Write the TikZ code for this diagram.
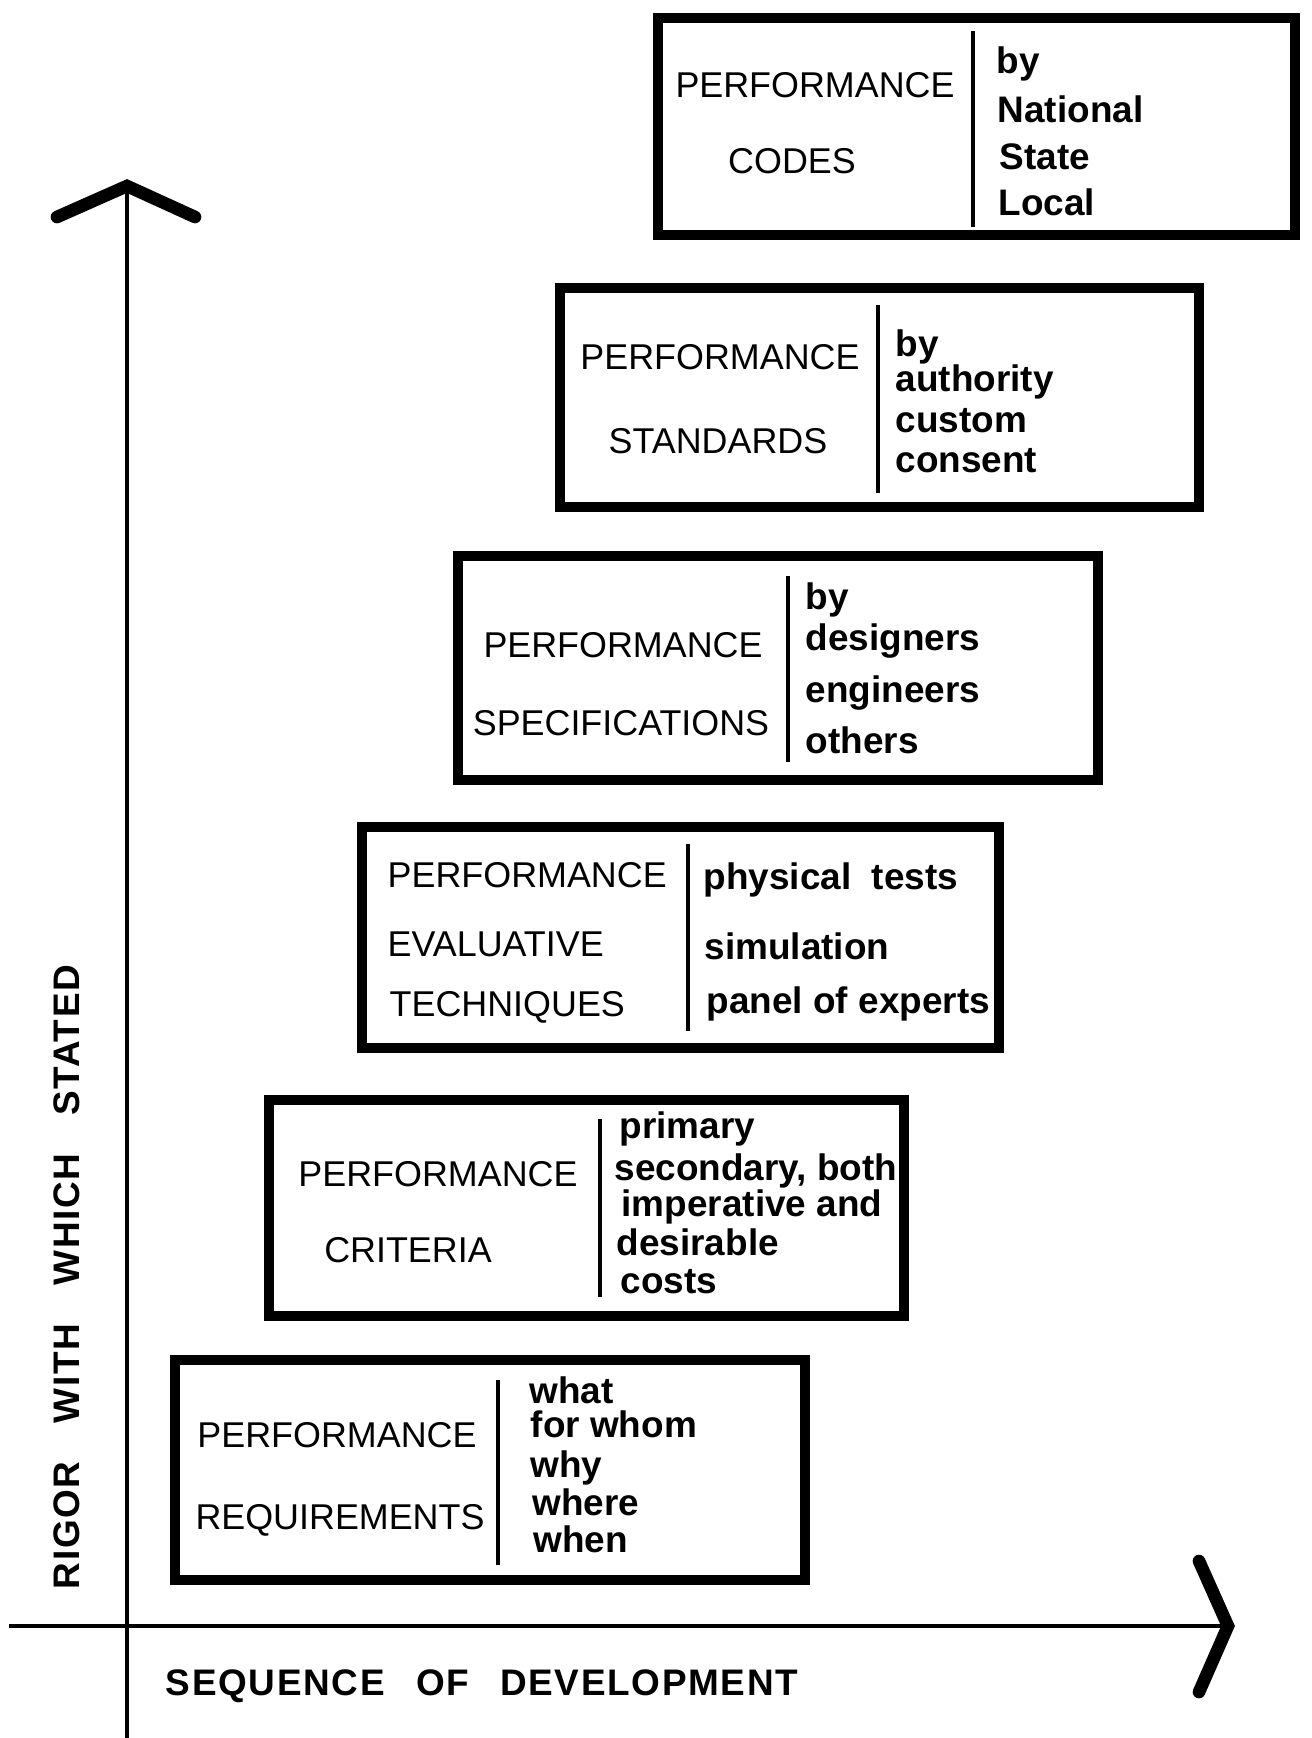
\documentclass[tikz,border=0pt]{standalone}
\usepackage{fontspec}
\setmainfont{Liberation Sans}
\newfontfamily\axisfont[LetterSpace=4.5]{Liberation Sans}
\usetikzlibrary{calc}
\tikzstyle{Stage} = [draw, line width=2.8pt, inner sep=0pt]
\tikzstyle{Head} = [inner sep=0pt, font=\fontsize{10.2}{12}\selectfont, text height=7.3pt, text depth=0pt]
\tikzstyle{Item} = [inner sep=0pt, anchor=west, font=\fontsize{10.5}{12}\selectfont\bfseries, text height=7.6pt, text depth=2.2pt]
\tikzstyle{Divider} = [line width=0.9pt]
\tikzstyle{Axis} = [line width=0.9pt]
\tikzstyle{Chevron} = [line width=3.6pt, line join=miter, line cap=round]
\tikzstyle{AxisLabel} = [inner sep=0pt, font=\fontsize{10.5}{12}\axisfont\bfseries, text height=7.5pt, text depth=0pt]

\begin{document}
\begin{tikzpicture}
    [x=0.01cm, y=-0.01cm]
    \useasboundingbox (0,0) rectangle (1311,1738);

    %% Boxes
    \node [Stage, minimum width=6.37cm, minimum height=2.17cm] (codes) at (976.5,126.5) {};
    \node [Stage, minimum width=6.39cm, minimum height=2.19cm] (standards) at (879.5,397.5) {};
    \node [Stage, minimum width=6.40cm, minimum height=2.24cm] (specs) at (778,668) {};
    \node [Stage, minimum width=6.37cm, minimum height=2.21cm] (evaluative) at (680.5,937.5) {};
    \node [Stage, minimum width=6.35cm, minimum height=2.16cm] (criteria) at (586.5,1208) {};
    \node [Stage, minimum width=6.30cm, minimum height=2.20cm] (requirements) at (490,1470) {};

    \draw [Divider] (973,31) -- (973,227);
    \draw [Divider] (878,305) -- (878,493);
    \draw [Divider] (788,576) -- (788,762);
    \draw [Divider] (688,844) -- (688,1031);
    \draw [Divider] (600,1119) -- (600,1297);
    \draw [Divider] (498,1380) -- (498,1565);

    %% Codes
    \node [Head] (codesA) at (815,85) {PERFORMANCE};
    \node [Head] (codesB) at (792,161) {CODES};
    \node [Item] (codesby) at (996,64) {by};
    \node [Item] (national) at (997,113) {National};
    \node [Item] (state) at (999,160) {State};
    \node [Item] (local) at (998,206) {Local};

    %% Standards
    \node [Head] (standA) at (720,357) {PERFORMANCE};
    \node [Head] (standB) at (718,441) {STANDARDS};
    \node [Item] (standby) at (895,347) {by};
    \node [Item] (authority) at (895,382) {authority};
    \node [Item] (custom) at (895,423) {custom};
    \node [Item] (consent) at (895,463) {consent};

    %% Specifications
    \node [Head] (specA) at (623,645) {PERFORMANCE};
    \node [Head] (specB) at (621,723) {SPECIFICATIONS};
    \node [Item] (specby) at (805,600) {by};
    \node [Item] (designers) at (805,641) {designers};
    \node [Item] (engineers) at (805,693) {engineers};
    \node [Item] (others) at (805,744) {others};

    %% Evaluative techniques
    \node [Head, anchor=west] (evalA) at (387,875) {PERFORMANCE};
    \node [Head, anchor=west] (evalB) at (387,944) {EVALUATIVE};
    \node [Head, anchor=west] (evalC) at (389,1004) {TECHNIQUES};
    \node [Item] (tests) at (703,880) {physical\ \ tests};
    \node [Item] (simulation) at (704,950) {simulation};
    \node [Item] (panel) at (706,1004) {panel of experts};

    %% Criteria
    \node [Head] (critA) at (438,1174) {PERFORMANCE};
    \node [Head] (critB) at (408,1250) {CRITERIA};
    \node [Item] (primary) at (619,1129) {primary};
    \node [Item] (secondary) at (614,1171) {secondary, both};
    \node [Item] (imperative) at (621,1207) {imperative and};
    \node [Item] (desirable) at (616,1246) {desirable};
    \node [Item] (costs) at (620,1284) {costs};

    %% Requirements
    \node [Head] (reqA) at (337,1435) {PERFORMANCE};
    \node [Head] (reqB) at (340,1517) {REQUIREMENTS};
    \node [Item] (what) at (529,1394) {what};
    \node [Item] (forwhom) at (530,1428) {for whom};
    \node [Item] (why) at (530,1468) {why};
    \node [Item] (where) at (532,1506) {where};
    \node [Item] (when) at (533,1543) {when};

    %% Axes
    \coordinate (yfoot) at (127,1738);
    \coordinate (ytip) at (127,186);
    \coordinate (xfoot) at (9,1626);
    \coordinate (xtip) at (1228,1626);
    \draw [Axis] (yfoot) -- (ytip);
    \draw [Axis] (xfoot) -- (xtip);
    \draw [Chevron] ($(ytip)+(-70,31)$) -- (ytip) -- ($(ytip)+(68,31)$);
    \draw [Chevron] ($(xtip)+(-29,-65)$) -- (xtip) -- ($(xtip)+(-29,66)$);

    \node [AxisLabel, rotate=90] (rigor) at (66,1277) {RIGOR\hspace{7.5pt} WITH\hspace{7.5pt} WHICH\hspace{7.5pt} STATED};
    \node [AxisLabel] (sequence) at (482,1682) {SEQUENCE\hspace{5.5pt} OF\hspace{5.5pt} DEVELOPMENT};

\end{tikzpicture}
\end{document}
